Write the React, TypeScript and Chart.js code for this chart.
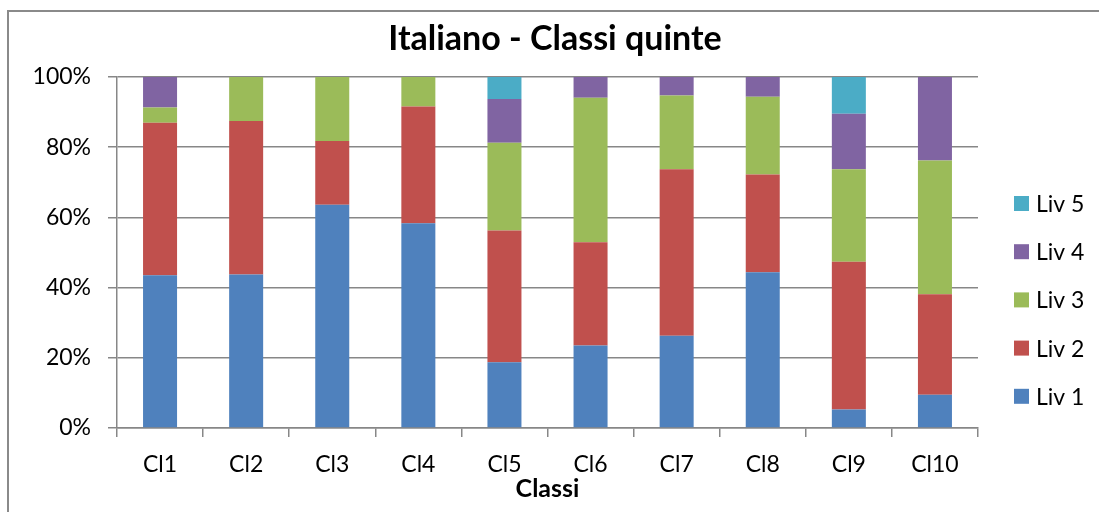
import React, { useEffect, useRef } from "react";
import { Chart, registerables } from "chart.js";

Chart.register(...registerables);

const categories = ["Cl1", "Cl2", "Cl3", "Cl4", "Cl5", "Cl6", "Cl7", "Cl8", "Cl9", "Cl10"];
const liv1 = [43.5, 43.75, 63.6, 58.3, 18.75, 23.5, 26.3, 44.4, 5.3, 9.5];
const liv2 = [43.5, 43.75, 18.2, 33.3, 37.5, 29.4, 47.4, 27.8, 42.1, 28.6];
const liv3 = [4.3, 12.5, 18.2, 8.4, 25.0, 41.2, 21.0, 22.2, 26.3, 38.1];
const liv4 = [8.7, 0, 0, 0, 12.5, 5.9, 5.3, 5.6, 15.8, 23.8];
const liv5 = [0, 0, 0, 0, 6.25, 0, 0, 0, 10.5, 0];
const seriesNames = ["Liv 1", "Liv 2", "Liv 3", "Liv 4", "Liv 5"];
const seriesColors = ["#4F81BD", "#C0504D", "#9BBB59", "#8064A2", "#4BACC6"];
const yTicks = [0, 20, 40, 60, 80, 100];
const chartTitle = "Italiano - Classi quinte";
const xTitle = "Classi";

const FONT = "Lato, 'Noto Sans', sans-serif";
const GRID = "#878787";

const titlePlugin = {
  id: "centerTitle",
  afterDraw(chart: any) {
    const ctx = chart.ctx;
    ctx.save();
    ctx.font = `bold 34px ${FONT}`;
    ctx.textAlign = "center";
    ctx.textBaseline = "alphabetic";
    ctx.fillStyle = "#000";
    ctx.fillText(chartTitle, 555, 50);
    ctx.restore();
  },
};

const legendPlugin = {
  id: "sideLegend",
  afterDraw(chart: any) {
    const ctx = chart.ctx;
    const ds = chart.data.datasets;
    const x0 = 1014;
    const top = 203.5;
    const gap = 48.2;
    ctx.save();
    ctx.font = `23px ${FONT}`;
    ctx.textBaseline = "middle";
    ctx.textAlign = "left";
    for (let k = 0; k < ds.length; k++) {
      const d = ds[ds.length - 1 - k];
      const cy = top + k * gap;
      ctx.fillStyle = d.backgroundColor;
      ctx.fillRect(x0, cy - 7.5, 15, 15);
      ctx.fillStyle = "#000";
      ctx.fillText(d.label, 1036, cy + 1);
    }
    ctx.restore();
  },
};

export default function App() {
  const ref = useRef<HTMLCanvasElement | null>(null);
  useEffect(() => {
    if (!ref.current) return;
    const datasetsData = [liv1, liv2, liv3, liv4, liv5];
    const chart = new Chart(ref.current, {
      type: "bar",
      data: {
        labels: categories,
        datasets: datasetsData.map((d, i) => ({
          label: seriesNames[i],
          data: d,
          backgroundColor: seriesColors[i],
          borderWidth: 0,
          categoryPercentage: 1,
          barPercentage: 0.395,
        })),
      },
      options: {
        animation: false,
        responsive: false,
        maintainAspectRatio: false,
        layout: { padding: { left: 8, right: 121, top: 77, bottom: 8 } },
        plugins: {
          legend: { display: false },
          tooltip: { enabled: false },
          title: { display: false },
        },
        scales: {
          x: {
            stacked: true,
            afterFit: (scale: any) => {
              scale.height = 76;
            },
            grid: {
              display: true,
              drawOnChartArea: false,
              drawTicks: true,
              tickLength: 9,
              color: GRID,
              lineWidth: 1.5,
              offset: true,
            },
            border: { display: true, color: GRID, width: 1.5 },
            ticks: { color: "#000", font: { family: FONT, size: 23 }, padding: 14, maxRotation: 0 },
            title: {
              display: true,
              text: xTitle,
              color: "#000",
              font: { family: FONT, size: 25, weight: "bold" },
              padding: { top: 0, bottom: 0 },
            },
          },
          y: {
            stacked: true,
            min: 0,
            max: 100,
            afterFit: (scale: any) => {
              scale.width = 109;
            },
            afterBuildTicks: (scale: any) => {
              scale.ticks = yTicks.map((v) => ({ value: v }));
            },
            grid: { color: GRID, lineWidth: 1.5, tickLength: 9, drawTicks: true },
            border: { display: true, color: GRID, width: 1.5 },
            ticks: {
              color: "#000",
              font: { family: FONT, size: 23 },
              padding: 17,
              callback: (v: any) => v + "%",
            },
          },
        },
      },
      plugins: [titlePlugin, legendPlugin],
    });
    return () => chart.destroy();
  }, []);
  return (
    <div style={{ position: "fixed", left: 0, top: 0, width: 1099, height: 512, overflow: "hidden", background: "#fff" }}>
      <canvas ref={ref} width={1099} height={512} style={{ position: "absolute", left: 0, top: 0 }} />
      <div
        style={{
          position: "absolute",
          left: 7,
          top: 10,
          width: 1200,
          height: 700,
          border: "2px solid #8a8a8a",
          pointerEvents: "none",
        }}
      />
    </div>
  );
}
